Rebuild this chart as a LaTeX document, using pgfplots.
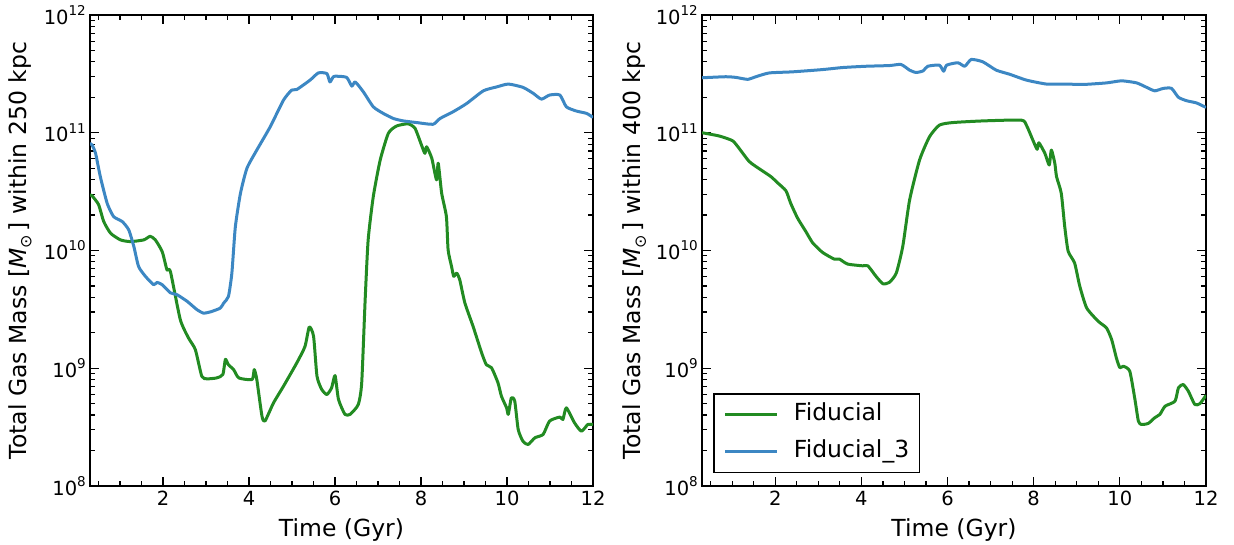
\documentclass[border=0pt]{standalone}
\usepackage{fontspec}
\setmainfont{DejaVu Sans}
\usepackage{pgfplots}
\pgfplotsset{compat=1.18}

\definecolor{fidgreen}{RGB}{34,139,34}
\definecolor{fidblue}{RGB}{60,135,195}

% 10^n tick labels in the text font
\newcommand{\tp}[1]{10\raisebox{0.45em}{\fontsize{13.5}{13.5}\selectfont #1}}
\newcommand{\msun}{\textit{M}\raisebox{-0.22em}{\fontsize{16}{16}\selectfont ⊙}\,}

\begin{document}
\begin{tikzpicture}
\path[use as bounding box] (0,0) rectangle (1234pt,544pt);

% ---------------- left panel: within 250 kpc ----------------
\begin{axis}[
  ymode=log,
  at={(90pt,58pt)}, anchor=south west,
  scale only axis, width=503pt, height=471pt,
  xmin=0.3, xmax=12, ymin=1e8, ymax=1e12,
  xtick={2,4,6,8,10,12},
  xticklabels={2,4,6,8,10,12},
  minor xtick={0.5,1,...,12},
  ytick={1e8,1e9,1e10,1e11,1e12},
  yticklabels={\tp{8},\tp{9},\tp{10},\tp{11},\tp{12}},
  minor ytick={2e8,3e8,4e8,5e8,6e8,7e8,8e8,9e8,
               2e9,3e9,4e9,5e9,6e9,7e9,8e9,9e9,
               2e10,3e10,4e10,5e10,6e10,7e10,8e10,9e10,
               2e11,3e11,4e11,5e11,6e11,7e11,8e11,9e11},
  tick align=inside,
  major tick length=9pt, minor tick length=5pt,
  every tick/.style={black, line width=1.2pt},
  axis line style={line width=1.5pt},
  tick label style={font=\fontsize{19.5}{19.5}\selectfont},
  xticklabel style={anchor=base, yshift=-20pt},
  yticklabel style={anchor=east, inner sep=0pt, xshift=-4pt},
  label style={font=\fontsize{23.5}{23.5}\selectfont},
  xlabel={Time (Gyr)},
  xlabel style={at={(axis description cs:0.5,0)}, anchor=base, yshift=-50.7pt},
  ylabel={Total Gas Mass [\msun] within 250 kpc},
  ylabel style={at={(axis description cs:-0.127,0.5)}, anchor=base},
]
% invisible first plot: keeps the real first series at its full line width
\addplot[draw=none, forget plot] coordinates {(1,1e9) (2,1e9)};
\addplot[fidgreen, line width=3pt, line join=round, smooth, tension=0.35] coordinates {
(0.30,2.95e10) (0.35,2.91e10) (0.50,2.45e10) (0.62,1.76e10) (0.78,1.40e10)
(1.01,1.23e10) (1.24,1.19e10) (1.55,1.23e10) (1.70,1.32e10) (1.82,1.23e10)
(1.98,9.77e9) (2.09,6.85e9) (2.17,6.64e9) (2.40,2.59e9) (2.59,1.81e9)
(2.75,1.44e9) (2.90,8.55e8) (3.02,8.13e8) (3.25,8.28e8) (3.39,8.85e8)
(3.45,1.19e9) (3.52,1.07e9) (3.64,9.75e8) (3.76,8.28e8) (4.07,8.02e8)
(4.12,9.75e8) (4.18,8.02e8) (4.30,3.92e8) (4.37,3.56e8) (4.57,5.09e8)
(4.80,7.03e8) (5.11,1.11e9) (5.30,1.53e9) (5.40,2.24e9) (5.50,1.87e9)
(5.58,8.55e8) (5.69,6.61e8) (5.81,5.98e8) (5.92,6.82e8) (6.00,8.67e8)
(6.08,5.43e8) (6.23,4.06e8) (6.35,4.06e8) (6.54,4.92e8) (6.62,7.52e8)
(6.70,3.80e9) (6.77,1.23e10) (6.89,2.88e10) (7.05,5.86e10) (7.24,9.89e10)
(7.43,1.14e11) (7.70,1.19e11) (7.86,1.09e11) (8.01,7.87e10) (8.09,6.68e10)
(8.13,7.60e10) (8.25,6.07e10) (8.36,3.98e10) (8.40,5.51e10) (8.48,3.06e10)
(8.59,1.94e10) (8.63,1.01e10) (8.71,7.31e9) (8.76,6.03e9) (8.83,6.43e9)
(8.90,5.65e9) (9.02,3.58e9) (9.21,2.27e9) (9.41,1.35e9) (9.52,1.07e9)
(9.64,1.01e9) (9.79,7.52e8) (9.87,5.79e8) (9.99,4.61e8) (10.03,4.06e8)
(10.10,5.61e8) (10.18,5.25e8) (10.26,3.02e8) (10.37,2.40e8) (10.49,2.25e8)
(10.65,2.57e8) (10.84,2.74e8) (10.99,3.56e8) (11.23,3.85e8) (11.30,3.67e8)
(11.38,4.61e8) (11.57,3.44e8) (11.73,2.92e8) (11.88,3.33e8) (12.00,3.33e8)
};
\addplot[fidblue, line width=3pt, line join=round, smooth, tension=0.35] coordinates {
(0.30,8.1e10) (0.35,7.87e10) (0.43,6.68e10) (0.54,4.24e10) (0.70,2.51e10)
(0.85,1.94e10) (1.05,1.76e10) (1.20,1.50e10) (1.32,1.08e10) (1.43,7.31e9)
(1.59,6.03e9) (1.78,5.12e9) (1.86,5.36e9) (1.98,5.12e9) (2.17,4.37e9)
(2.32,4.22e9) (2.56,3.70e9) (2.79,3.14e9) (2.94,2.94e9) (3.10,3.01e9)
(3.33,3.24e9) (3.41,3.58e9) (3.52,4.07e9) (3.60,6.43e9) (3.68,1.58e10)
(3.80,3.06e10) (3.95,4.99e10) (4.18,7.13e10) (4.49,1.12e11) (4.80,1.89e11)
(4.99,2.30e11) (5.11,2.33e11) (5.42,2.80e11) (5.61,3.22e11) (5.81,3.18e11)
(5.88,2.70e11) (5.96,2.99e11) (6.04,3.02e11) (6.27,2.95e11) (6.39,2.49e11)
(6.47,2.70e11) (6.66,2.22e11) (6.89,1.66e11) (7.12,1.46e11) (7.36,1.32e11)
(7.59,1.26e11) (7.90,1.22e11) (8.28,1.18e11) (8.44,1.32e11) (8.75,1.51e11)
(9.06,1.77e11) (9.45,2.27e11) (9.76,2.45e11) (10.03,2.59e11) (10.37,2.43e11)
(10.61,2.16e11) (10.80,1.93e11) (10.99,2.09e11) (11.23,2.09e11) (11.38,1.66e11)
(11.61,1.53e11) (11.85,1.46e11) (12.00,1.35e11)
};
\end{axis}

% ---------------- right panel: within 400 kpc ----------------
\begin{axis}[
  ymode=log,
  at={(702pt,58pt)}, anchor=south west,
  scale only axis, width=504pt, height=471pt,
  xmin=0.3, xmax=12, ymin=1e8, ymax=1e12,
  xtick={2,4,6,8,10,12},
  xticklabels={2,4,6,8,10,12},
  minor xtick={0.5,1,...,12},
  ytick={1e8,1e9,1e10,1e11,1e12},
  yticklabels={\tp{8},\tp{9},\tp{10},\tp{11},\tp{12}},
  minor ytick={2e8,3e8,4e8,5e8,6e8,7e8,8e8,9e8,
               2e9,3e9,4e9,5e9,6e9,7e9,8e9,9e9,
               2e10,3e10,4e10,5e10,6e10,7e10,8e10,9e10,
               2e11,3e11,4e11,5e11,6e11,7e11,8e11,9e11},
  tick align=inside,
  major tick length=9pt, minor tick length=5pt,
  every tick/.style={black, line width=1.2pt},
  axis line style={line width=1.5pt},
  tick label style={font=\fontsize{19.5}{19.5}\selectfont},
  xticklabel style={anchor=base, yshift=-20pt},
  yticklabel style={anchor=east, inner sep=0pt, xshift=-4pt},
  label style={font=\fontsize{23.5}{23.5}\selectfont},
  xlabel={Time (Gyr)},
  xlabel style={at={(axis description cs:0.5,0)}, anchor=base, yshift=-50.7pt},
  ylabel={Total Gas Mass [\msun] within 400 kpc},
  ylabel style={at={(axis description cs:-0.1216,0.5)}, anchor=base},
  legend style={at={(axis description cs:0.0224,0.027)}, anchor=south west,
    draw=black, line width=1.3pt, font=\fontsize{23.5}{23.5}\selectfont,
    inner xsep=10pt, inner ysep=10pt, row sep=14.7pt,
    nodes={inner sep=0pt, text height=17pt, text depth=5pt},
    /tikz/column 1/.style={column sep=15pt}},
  legend cell align=left,
  legend image code/.code={\draw[#1] (0pt,0pt) -- (52pt,0pt);},
]
\addplot[draw=none, forget plot] coordinates {(1,1e9) (2,1e9)};
\addplot[fidgreen, line width=3pt, line join=round, smooth, tension=0.35] coordinates {
(0.30,1.00e11) (0.70,9.38e10) (1.01,8.55e10) (1.16,7.38e10) (1.40,5.68e10)
(1.67,4.83e10) (1.90,4.24e10) (2.05,3.77e10) (2.25,3.21e10) (2.36,2.51e10)
(2.52,1.88e10) (2.71,1.45e10) (2.87,1.16e10) (3.10,9.62e9) (3.37,8.45e9)
(3.49,8.45e9) (3.68,7.67e9) (4.03,7.41e9) (4.15,7.41e9) (4.34,6.03e9)
(4.50,5.22e9) (4.65,5.36e9) (4.81,6.43e9) (4.96,1.08e10) (5.12,2.69e10)
(5.35,5.86e10) (5.58,9.23e10) (5.81,1.16e11) (6.12,1.22e11) (6.82,1.26e11)
(7.71,1.28e11) (7.83,1.16e11) (7.98,8.67e10) (8.08,7.23e10) (8.12,8.22e10)
(8.26,6.68e10) (8.36,5.32e10) (8.41,7.13e10) (8.49,5.51e10) (8.53,4.24e10)
(8.64,3.06e10) (8.72,1.60e10) (8.80,9.86e9) (8.95,7.82e9) (9.07,4.97e9)
(9.23,3.25e9) (9.50,2.50e9) (9.69,2.20e9) (9.81,1.75e9) (9.92,1.22e9)
(10.00,1.01e9) (10.08,1.04e9) (10.23,9.44e8) (10.35,5.43e8) (10.43,3.56e8)
(10.50,3.33e8) (10.66,3.40e8) (10.81,3.80e8) (10.93,4.06e8) (11.05,4.76e8)
(11.28,5.25e8) (11.36,6.82e8) (11.47,7.28e8) (11.59,6.38e8) (11.74,4.92e8)
(11.86,5.01e8) (12.00,5.90e8)
};
\addlegendentry{Fiducial}
\addplot[fidblue, line width=3pt, line join=round, smooth, tension=0.35] coordinates {
(0.30,2.93e11) (0.85,2.99e11) (1.09,2.95e11) (1.36,2.84e11) (1.55,2.99e11)
(1.86,3.22e11) (2.40,3.29e11) (3.10,3.44e11) (3.57,3.58e11) (4.11,3.67e11)
(4.65,3.72e11) (4.92,3.80e11) (5.12,3.40e11) (5.27,3.25e11) (5.43,3.35e11)
(5.54,3.67e11) (5.81,3.75e11) (5.91,3.33e11) (5.98,3.75e11) (6.24,3.93e11)
(6.40,3.67e11) (6.55,4.19e11) (6.82,4.00e11) (7.13,3.40e11) (7.44,3.14e11)
(7.83,2.80e11) (8.30,2.59e11) (8.76,2.59e11) (9.15,2.57e11) (9.69,2.65e11)
(10.04,2.76e11) (10.39,2.65e11) (10.62,2.43e11) (10.81,2.27e11) (11.01,2.38e11)
(11.20,2.38e11) (11.36,2.00e11) (11.55,1.87e11) (11.78,1.79e11) (12.00,1.64e11)
};
\addlegendentry{Fiducial\_3}
\end{axis}
\end{tikzpicture}
\end{document}
